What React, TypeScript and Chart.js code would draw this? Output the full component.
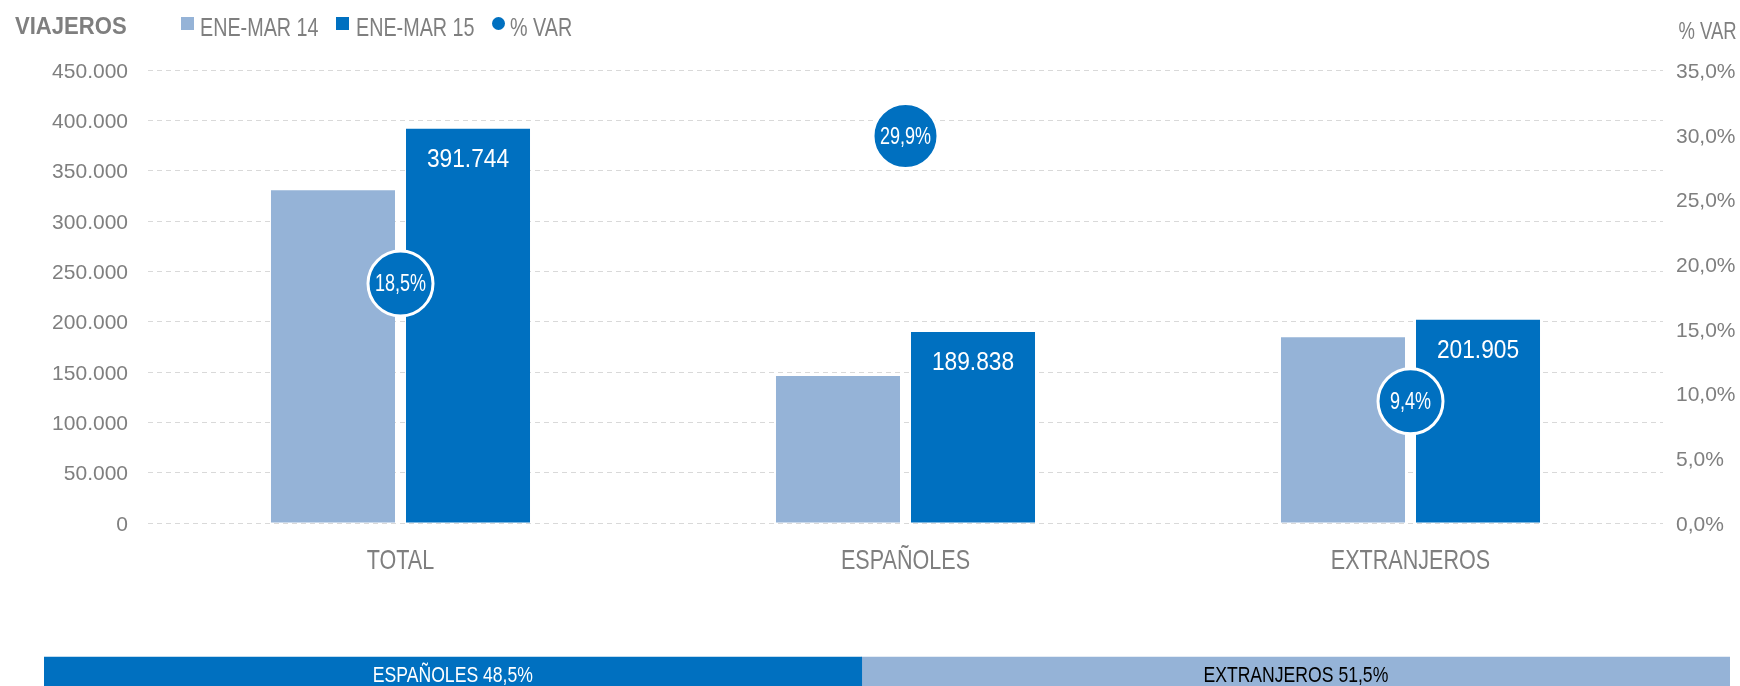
import React, { useEffect, useRef } from 'react';
import { Chart, registerables } from 'chart.js';

Chart.register(...registerables);

// ---- data ----
const categories = ['TOTAL', 'ESPAÑOLES', 'EXTRANJEROS'];
const seriesNames = ['ENE-MAR 14', 'ENE-MAR 15', '% VAR'];
const viajeros14 = [330585, 146141, 184557];
const viajeros15 = [391744, 189838, 201905];
const variacion = [18.5, 29.9, 9.4];
const leftMax = 450000;
const leftStep = 50000;
const rightMax = 35;
const rightStep = 5;
const shareNames = ['ESPAÑOLES', 'EXTRANJEROS'];
const shares = [48.5, 51.5];

// ---- styles ----
const LIGHT = '#95B3D7';
const DARK = '#0070C0';
const GREY = '#7F7F7F';
const SANS = '"Liberation Sans", Arial, sans-serif';

const fmtThousands = (v: number) => String(Math.round(v)).replace(/\B(?=(\d{3})+(?!\d))/g, '.');
const fmtPct = (v: number) => v.toFixed(1).replace('.', ',') + '%';

// draw horizontally condensed text (no condensed face installed)
function drawCondensed(ctx: CanvasRenderingContext2D, text: string, x: number, y: number, sx: number) {
  ctx.save();
  ctx.translate(x, y);
  ctx.scale(sx, 1);
  ctx.fillText(text, 0, 0);
  ctx.restore();
}

export default function App() {
  const mainRef = useRef<HTMLCanvasElement | null>(null);
  const shareRef = useRef<HTMLCanvasElement | null>(null);

  useEffect(() => {
    if (!mainRef.current || !shareRef.current) return;

    const labelsPlugin = {
      id: 'valueLabels',
      afterDatasetsDraw(chart: any) {
        const ctx = chart.ctx;
        ctx.save();
        ctx.textAlign = 'center';
        ctx.textBaseline = 'middle';
        // values inside ENE-MAR 15 bars
        const meta15 = chart.getDatasetMeta(2);
        ctx.fillStyle = '#FFFFFF';
        ctx.font = `25px ${SANS}`;
        meta15.data.forEach((el: any, i: number) => {
          drawCondensed(ctx, fmtThousands(viajeros15[i]), el.x, el.y + 31, 0.91);
        });
        // percentages inside circles
        const metaVar = chart.getDatasetMeta(0);
        ctx.font = `24px ${SANS}`;
        metaVar.data.forEach((el: any, i: number) => {
          drawCondensed(ctx, fmtPct(variacion[i]), el.x, el.y + 1, 0.75);
        });
        // category labels under the x axis
        const xs = chart.scales.x;
        ctx.fillStyle = GREY;
        ctx.font = `28px ${SANS}`;
        categories.forEach((c, i) => {
          drawCondensed(ctx, c, xs.getPixelForValue(i), chart.chartArea.bottom + 38, 0.77);
        });
        ctx.restore();
      },
    };

    const main = new Chart(mainRef.current, {
      type: 'bar',
      data: {
        labels: categories,
        datasets: [
          {
            type: 'line',
            label: seriesNames[2],
            data: variacion,
            yAxisID: 'y1',
            showLine: false,
            order: 0,
            pointRadius: 32.5,
            pointHoverRadius: 32.5,
            pointBackgroundColor: DARK,
            pointBorderColor: '#FFFFFF',
            pointBorderWidth: 3,
            backgroundColor: DARK,
            borderColor: '#FFFFFF',
            clip: false,
          } as any,
          {
            type: 'bar',
            label: seriesNames[0],
            data: viajeros14,
            yAxisID: 'y',
            backgroundColor: LIGHT,
            borderWidth: 0,
            order: 1,
            categoryPercentage: 0.5347,
            barPercentage: 0.9185,
          },
          {
            type: 'bar',
            label: seriesNames[1],
            data: viajeros15,
            yAxisID: 'y',
            backgroundColor: DARK,
            borderWidth: 0,
            order: 1,
            categoryPercentage: 0.5347,
            barPercentage: 0.9185,
          },
        ],
      },
      options: {
        responsive: false,
        animation: false,
        events: [],
        layout: { padding: { top: 70, left: 0, right: 0, bottom: 0 } },
        plugins: { legend: { display: false }, tooltip: { enabled: false }, title: { display: false } },
        scales: {
          x: {
            grid: { display: false, drawTicks: false },
            border: { display: false },
            ticks: { display: false },
            afterFit: (s: any) => { s.height = 77; },
          },
          y: {
            position: 'left',
            min: 0,
            max: leftMax,
            grid: { color: '#D9D9D9', lineWidth: 1, drawTicks: false },
            border: { display: false, dash: [5, 4] },
            ticks: {
              stepSize: leftStep,
              color: GREY,
              font: { family: SANS, size: 21 },
              padding: 20,
              labelOffset: 2,
              callback: (v: any) => fmtThousands(Number(v)),
            },
            afterFit: (s: any) => { s.width = 148; },
          },
          y1: {
            position: 'right',
            min: 0,
            max: rightMax,
            grid: { display: false, drawTicks: false },
            border: { display: false },
            ticks: {
              stepSize: rightStep,
              color: GREY,
              font: { family: SANS, size: 21 },
              padding: 13,
              labelOffset: 2,
              callback: (v: any) => fmtPct(Number(v)),
            },
            afterFit: (s: any) => { s.width = 77; },
          },
        },
      } as any,
      plugins: [labelsPlugin],
    });

    const shareLabels = {
      id: 'shareLabels',
      afterDatasetsDraw(chart: any) {
        const ctx = chart.ctx;
        ctx.save();
        ctx.font = `22px ${SANS}`;
        ctx.textAlign = 'center';
        ctx.textBaseline = 'middle';
        chart.data.datasets.forEach((ds: any, i: number) => {
          const el = chart.getDatasetMeta(i).data[0];
          ctx.fillStyle = i === 0 ? '#FFFFFF' : '#000000';
          drawCondensed(ctx, `${shareNames[i]} ${fmtPct(shares[i])}`, (el.x + el.base) / 2, el.y + 1, 0.8);
        });
        ctx.restore();
      },
    };

    const share = new Chart(shareRef.current, {
      type: 'bar',
      data: {
        labels: [''],
        datasets: shareNames.map((n, i) => ({
          label: n,
          data: [shares[i]],
          backgroundColor: i === 0 ? DARK : LIGHT,
          borderWidth: 0,
          barThickness: 36,
        })),
      },
      options: {
        indexAxis: 'y',
        responsive: false,
        animation: false,
        events: [],
        layout: { padding: { left: 44, right: 10, top: 0, bottom: 0 } },
        plugins: { legend: { display: false }, tooltip: { enabled: false } },
        scales: {
          x: { stacked: true, min: 0, max: 100, display: false },
          y: { stacked: true, display: false },
        },
      } as any,
      plugins: [shareLabels],
    });

    return () => {
      main.destroy();
      share.destroy();
    };
  }, []);

  const txt = (left: number | null, top: number, size: number, sx: number, extra: React.CSSProperties = {}): React.CSSProperties => ({
    position: 'absolute',
    top,
    ...(left === null ? { right: 3, transformOrigin: 'right center' } : { left, transformOrigin: 'left center' }),
    lineHeight: '30px',
    fontFamily: SANS,
    fontSize: size,
    color: GREY,
    whiteSpace: 'nowrap',
    transform: `scaleX(${sx})`,
    ...extra,
  });
  const marker = (left: number, color: string, round: boolean): React.CSSProperties => ({
    position: 'absolute',
    left,
    top: 17,
    width: 13,
    height: 13,
    background: color,
    borderRadius: round ? '50%' : 0,
  });

  return (
    <div style={{ position: 'fixed', left: 0, top: 0, width: 1740, height: 686, overflow: 'hidden', background: '#FFFFFF' }}>
      <canvas ref={mainRef} width={1740} height={600} style={{ position: 'absolute', left: 0, top: 0, display: 'block' }} />
      <canvas ref={shareRef} width={1740} height={70} style={{ position: 'absolute', left: 0, top: 640, display: 'block' }} />
      <div style={txt(15, 11, 24, 0.92, { fontWeight: 'bold' })}>VIAJEROS</div>
      <div style={marker(181, LIGHT, false)} />
      <div style={txt(200, 12, 25, 0.79)}>{seriesNames[0]}</div>
      <div style={marker(336, DARK, false)} />
      <div style={txt(356, 12, 25, 0.79)}>{seriesNames[1]}</div>
      <div style={marker(492, DARK, true)} />
      <div style={txt(510, 12, 25, 0.79)}>{seriesNames[2]}</div>
      <div style={txt(null, 16, 24, 0.77)}>% VAR</div>
    </div>
  );
}
